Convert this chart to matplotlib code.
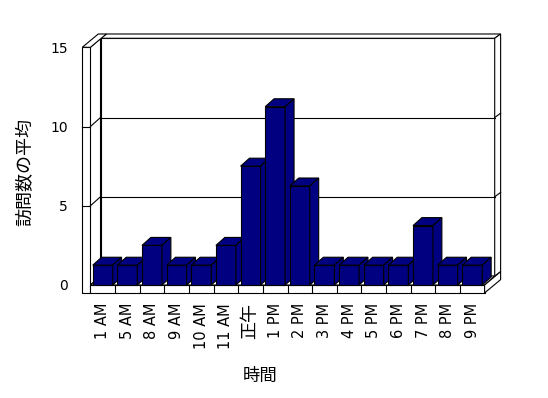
#! /usr/bin/env python3

import numpy as np
import matplotlib
matplotlib.use('Agg')
import matplotlib.pyplot as plt
from matplotlib.patches import Polygon

plt.rcParams['font.family'] = ['DejaVu Sans', 'Noto Sans CJK JP']

# Data
hours = ['1 AM', '5 AM', '8 AM', '9 AM', '10 AM', '11 AM', '正午', '1 PM',
         '2 PM', '3 PM', '4 PM', '5 PM', '6 PM', '7 PM', '8 PM', '9 PM']
visits = [1.25, 1.25, 2.5, 1.25, 1.25, 2.5, 7.5, 11.25,
          6.25, 1.25, 1.25, 1.25, 1.25, 3.75, 1.25, 1.25]
yticks = [0, 5, 10, 15]
ylabel = '訪問数の平均'
xlabel = '時間'

NAVY = '#000080'
DX, DY = 0.41, 0.57     # depth of the box (data units)
TX, TY = 0.24, 0.27     # thickness of the back wall
WALL = 0.33             # thickness of the left wall
FLOOR = 0.5             # thickness of the floor
BW = 0.81               # bar width
BD = 0.88               # bar depth as fraction of box depth
LW = 0.8

fig = plt.figure(figsize=(5.48, 3.98), dpi=100)
ax = fig.add_axes([90.4/548, 113/398, 394.2/548, 237.7/398])
n = len(visits)
x0, x1 = -0.5, n - 0.5
top = yticks[-1]
ax.set_xlim(x0, x1)
ax.set_ylim(0, top)

def poly(pts, z, fc='white'):
    ax.add_patch(Polygon(pts, closed=True, fc=fc, ec='black', lw=LW,
                         zorder=z, clip_on=False, joinstyle='miter'))

def line(xs, ys, z):
    ax.plot(xs, ys, color='black', lw=LW, zorder=z, clip_on=False)

# Back wall
poly([(x0+DX, DY), (x1+DX, DY), (x1+DX, top+DY), (x0+DX, top+DY)], 1)
poly([(x0+DX, top+DY), (x1+DX, top+DY), (x1+DX+TX, top+DY+TY), (x0+DX+TX, top+DY+TY)], 1)
poly([(x1+DX, DY), (x1+DX+TX, DY+TY), (x1+DX+TX, top+DY+TY), (x1+DX, top+DY)], 1)
for v in yticks[1:-1]:
    line([x0+DX, x1+DX], [v+DY, v+DY], 2)
    line([x1+DX, x1+DX+TX], [v+DY, v+DY+TY], 2)

# Left wall
poly([(x0, 0), (x0+DX, DY), (x0+DX, top+DY), (x0, top)], 3)
poly([(x0-WALL, -FLOOR), (x0, -FLOOR), (x0, top), (x0-WALL, top)], 3)
poly([(x0-WALL, top), (x0, top), (x0+DX+TX, top+DY+TY), (x0-WALL+DX+TX, top+DY+TY)], 3)
for v in yticks[1:-1]:
    line([x0, x0+DX], [v, v+DY], 4)
    line([x0-WALL, x0], [v, v], 4)

# Floor
poly([(x0, 0), (x1, 0), (x1+DX, DY), (x0+DX, DY)], 5)
poly([(x0, -FLOOR), (x1, -FLOOR), (x1, 0), (x0, 0)], 5)
poly([(x1, -FLOOR), (x1, 0), (x1+DX+TX, DY+TY), (x1+DX+TX, -FLOOR+DY+TY)], 5)
ax.vlines(np.arange(n-1) + 0.5, -FLOOR, 0, colors='black', lw=LW, zorder=6, clip_on=False)

# Bars, left to right so each one covers the side of the previous
bars = ax.bar(range(n), visits, width=BW, color=NAVY, edgecolor='black', lw=LW, clip_on=False)
bx, by = DX*BD, DY*BD
for i, (r, v) in enumerate(zip(bars, visits)):
    z = 10 + i
    r.set_zorder(z)
    xl, xr = i - BW/2, i + BW/2
    poly([(xl, v), (xr, v), (xr+bx, v+by), (xl+bx, v+by)], z, NAVY)
    poly([(xr, 0), (xr+bx, by), (xr+bx, v+by), (xr, v)], z, NAVY)

ax.set_yticks(yticks)
ax.set_yticklabels([str(t) for t in yticks], fontsize=10)
ax.set_xticks(range(n))
ax.set_xticklabels(hours, rotation=90, fontsize=10.5)
# the CJK label is drawn bigger in the original
for lbl in ax.get_xticklabels():
    if not lbl.get_text().isascii():
        lbl.set_fontsize(13)
ax.tick_params(axis='y', length=0, pad=16)
ax.tick_params(axis='x', length=0, pad=13)
for s in ax.spines.values():
    s.set_visible(False)
ax.patch.set_visible(False)

fig.text(25/548, 1 - 172/398, ylabel, rotation=90, ha='center', va='center', fontsize=13)
fig.text(260/548, 1 - 376/398, xlabel, ha='center', va='center', fontsize=12.5)

fig.savefig('out.png', dpi=100, facecolor='white')
